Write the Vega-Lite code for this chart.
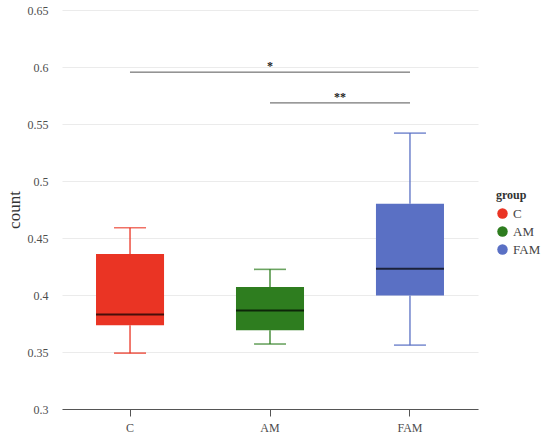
{
  "$schema": "https://vega.github.io/schema/vega-lite/v6.json",
  "autosize": "none",
  "padding": {"left": 62, "top": 10, "right": 72, "bottom": 31},
  "width": 416,
  "height": 399,
  "background": "white",
  "config": {
    "font": "Liberation Serif",
    "view": {"stroke": null},
    "text": {"font": "Liberation Serif"},
    "axis": {"labelFont": "Liberation Serif", "titleFont": "Liberation Serif", "labelColor": "#4d4d4d", "titleColor": "#333333", "labelFontSize": 12},
    "legend": {"labelFont": "Liberation Serif", "titleFont": "Liberation Serif"}
  },
  "datasets": {
    "boxes": [
      {"group": "C", "lower": 0.349, "q1": 0.3735, "median": 0.383, "q3": 0.436, "upper": 0.459},
      {"group": "AM", "lower": 0.357, "q1": 0.369, "median": 0.3865, "q3": 0.407, "upper": 0.4225},
      {"group": "FAM", "lower": 0.356, "q1": 0.3995, "median": 0.423, "q3": 0.48, "upper": 0.542}
    ],
    "sig": [
      {"from": 1, "to": 3, "y": 0.5955, "mid": 2, "label": "*"},
      {"from": 2, "to": 3, "y": 0.5685, "mid": 2.5, "label": "**"}
    ]
  },
  "layer": [
    {
      "data": {"name": "boxes"},
      "encoding": {
        "x": {
          "field": "group",
          "type": "nominal",
          "sort": ["C", "AM", "FAM"],
          "scale": {"paddingInner": 0.514, "paddingOuter": 0.243},
          "title": null,
          "axis": {"labelAngle": 0, "domainColor": "#555555", "tickColor": "#555555", "tickSize": 7, "labelPadding": 6, "grid": false, "labelFont": "Liberation Serif", "labelFontSize": 12, "labelColor": "#4d4d4d"}
        },
        "color": {
          "field": "group",
          "type": "nominal",
          "sort": ["C", "AM", "FAM"],
          "scale": {"domain": ["C", "AM", "FAM"], "range": ["#EA3424", "#2E7D1F", "#5A70C4"]},
          "legend": {
            "title": "group",
            "orient": "none",
            "legendX": 434,
            "legendY": 180,
            "symbolType": "circle",
            "symbolSize": 110,
            "symbolStrokeWidth": 0,
            "symbolOpacity": 1,
            "titleFont": "Liberation Serif",
            "titleFontSize": 12,
            "titleFontWeight": "bold",
            "titleColor": "#333333",
            "labelFont": "Liberation Serif",
            "labelFontSize": 13,
            "labelColor": "#444444",
            "rowPadding": 4
          }
        }
      },
      "layer": [
        {
          "mark": {"type": "rule", "strokeWidth": 1.3},
          "encoding": {
            "y": {"field": "lower", "type": "quantitative", "scale": {"domain": [0.3, 0.65], "nice": false, "zero": false},
              "title": "count",
              "axis": {"values": [0.3, 0.35, 0.4, 0.45, 0.5, 0.55, 0.6, 0.65], "format": "~g", "domain": false, "ticks": false, "labelPadding": 14, "gridColor": "#ebebeb", "labelFont": "Liberation Serif", "labelColor": "#4d4d4d", "labelFontSize": 12, "titleFont": "Liberation Serif", "titleFontSize": 17, "titleFontWeight": "normal", "titleColor": "#333333", "titlePadding": 4}},
            "y2": {"field": "q1"}
          }
        },
        {
          "mark": {"type": "rule", "strokeWidth": 1.3},
          "encoding": {
            "y": {"field": "q3", "type": "quantitative"},
            "y2": {"field": "upper"}
          }
        },
        {
          "mark": {"type": "bar"},
          "encoding": {
            "y": {"field": "q1", "type": "quantitative"},
            "y2": {"field": "q3"}
          }
        },
        {
          "mark": {"type": "tick", "size": 32, "thickness": 1.6, "orient": "horizontal"},
          "encoding": {"y": {"field": "lower", "type": "quantitative"}}
        },
        {
          "mark": {"type": "tick", "size": 32, "thickness": 1.6, "orient": "horizontal"},
          "encoding": {"y": {"field": "upper", "type": "quantitative"}}
        },
        {
          "mark": {"type": "tick", "size": 68, "thickness": 2, "orient": "horizontal", "color": "#000000"},
          "encoding": {"y": {"field": "median", "type": "quantitative"}, "color": {"value": "#000000"}}
        }
      ]
    },
    {
      "data": {"name": "sig"},
      "encoding": {
        "x": {"field": "from", "type": "quantitative", "scale": {"domain": [0.5143, 3.4857], "nice": false, "zero": false}, "axis": null},
        "y": {"field": "y", "type": "quantitative"}
      },
      "layer": [
        {
          "mark": {"type": "rule", "color": "#555555", "strokeWidth": 1},
          "encoding": {"x2": {"field": "to"}}
        },
        {
          "mark": {"type": "text", "baseline": "bottom", "dy": 1, "font": "Liberation Serif", "fontSize": 12, "fontWeight": "bold", "color": "#222222"},
          "encoding": {"x": {"field": "mid", "type": "quantitative"}, "text": {"field": "label"}}
        }
      ]
    }
  ],
  "resolve": {"scale": {"x": "independent", "color": "independent"}, "axis": {"x": "independent"}}
}
